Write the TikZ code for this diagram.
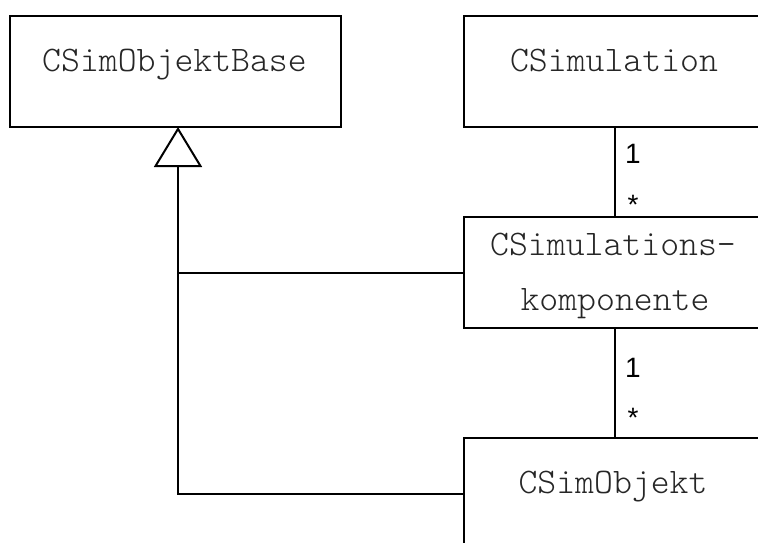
\documentclass[tikz,border=0pt]{standalone}
\usepackage{fontspec}
\setmainfont{Liberation Sans}
\newfontfamily\labelfont{Liberation Sans}
\newfontfamily\classfont{lmmonolt10-regular.otf}
\usetikzlibrary{arrows.meta}

\tikzset{
  classbox/.style={draw=black, line width=2pt, rectangle, inner sep=0pt,
    minimum width=300pt, minimum height=111pt},
  classname/.style={inner sep=0pt, anchor=base,
    font=\classfont\fontsize{36pt}{55pt}\selectfont, text=black!85},
  multlabel/.style={inner sep=0pt, font=\labelfont\fontsize{28pt}{30pt}\selectfont},
  assoc/.style={draw=black, line width=2pt},
  generalization/.style={draw=black, line width=2pt, line join=miter,
    -{Triangle[open, length=40pt, width=48pt, line width=2pt]}},
}

\begin{document}
\begin{tikzpicture}[x=1pt, y=-1pt]
  \useasboundingbox (0,0) rectangle (758,543);
  \clip (0,0) rectangle (758,543);

  % classes
  \node[classbox, minimum width=331pt] (base) at (175.5,71.5) {};
  \node[classbox] (sim)  at (614,71.5)  {};
  \node[classbox] (komp) at (614,272.5) {};
  \node[classbox] (obj)  at (614,493.5) {};

  % class names
  \node[classname] (basename) at (174.5,71) {CSimObjektBase};
  \node[classname] (simname)  at (614,71)   {CSimulation};
  \node[classname] (kompname1) at (613,255) {CSimulations-};
  \node[classname] (kompname2) at (615,310) {komponente};
  \node[classname] (objname)  at (613,493)  {CSimObjekt};

  % inheritance
  \coordinate (apex) at (178,127);
  \draw[generalization] (obj.west) -| (apex);
  \draw[assoc] (komp.west) -- (komp.west -| apex);

  % associations
  \draw[assoc] (615,127) coordinate (a1) -- (615,217) coordinate (a2);
  \draw[assoc] (615,328) coordinate (b1) -- (615,438) coordinate (b2);

  % multiplicities
  \node[multlabel, anchor=base west] (m1) at (625,163) {1};
  \node[multlabel] (m2) at (633,205) {*};
  \node[multlabel, anchor=base west] (m3) at (625,377) {1};
  \node[multlabel] (m4) at (633,418) {*};
\end{tikzpicture}
\end{document}
